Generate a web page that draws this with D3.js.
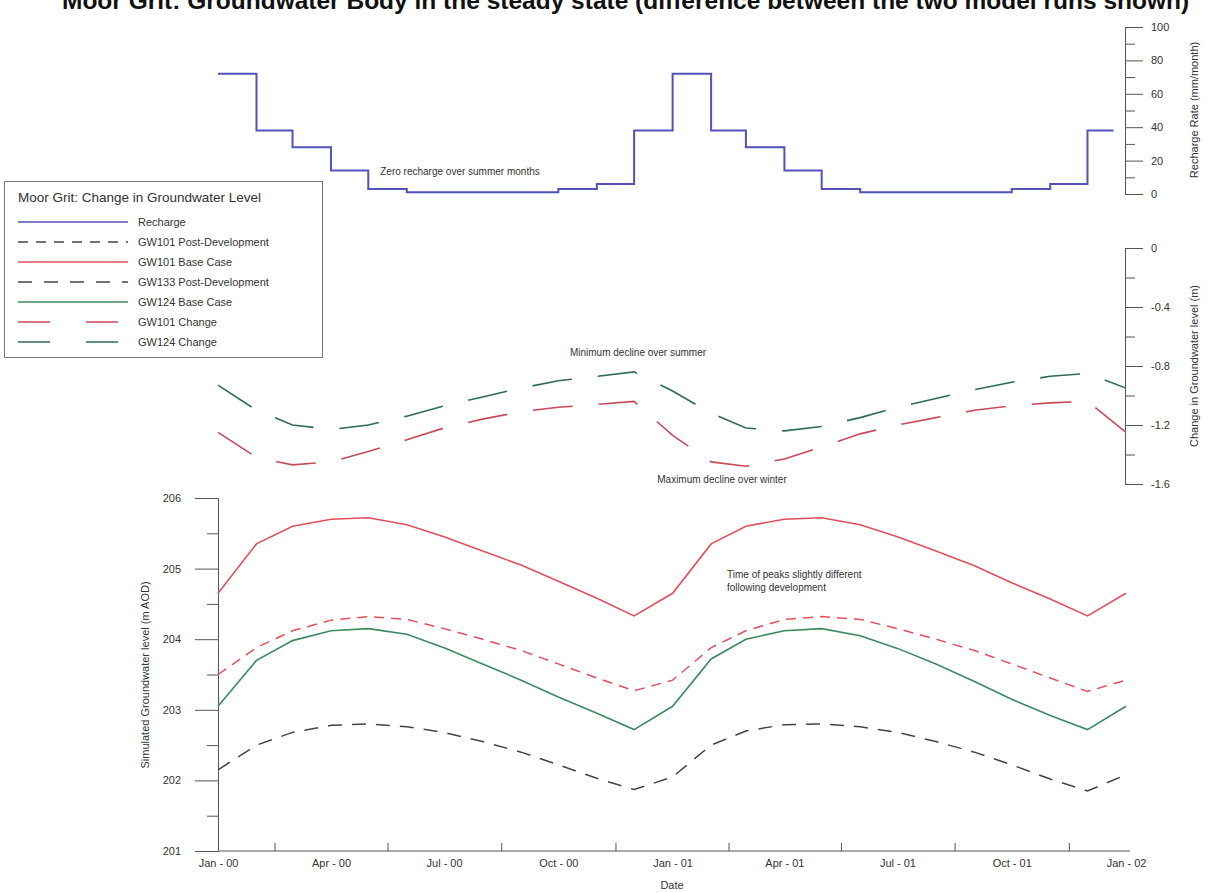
<!DOCTYPE html>
<html>
<head>
<meta charset="utf-8">
<script src="https://cdn.jsdelivr.net/npm/d3@7"></script>
<style>
  body { margin: 0; background: #fff; }
  svg { display: block; }
  text { font-family: "Liberation Sans", Arial, sans-serif; fill: #333; }
</style>
</head>
<body>
<div id="chart"></div>
<script>
// monthly values, Jan-00 .. Jan-02
var quarterLabels = ["Jan - 00", "Apr - 00", "Jul - 00", "Oct - 00", "Jan - 01", "Apr - 01", "Jul - 01", "Oct - 01", "Jan - 02"];
var recharge = [72, 38, 28, 14, 3, 1, 1, 1, 1, 3, 6, 38, 72, 38, 28, 14, 3, 1, 1, 1, 1, 3, 6, 38];
var gw101Base = [204.65, 205.35, 205.6, 205.7, 205.72, 205.62, 205.45, 205.25, 205.05, 204.82, 204.58, 204.33,
                 204.65, 205.35, 205.6, 205.7, 205.72, 205.62, 205.45, 205.25, 205.04, 204.8, 204.57, 204.33, 204.65];
var gw101Post = [203.5, 203.88, 204.12, 204.27, 204.32, 204.28, 204.15, 204.0, 203.84, 203.65, 203.45, 203.27,
                 203.42, 203.88, 204.12, 204.28, 204.32, 204.28, 204.15, 204.0, 203.84, 203.65, 203.45, 203.26, 203.42];
var gw124Base = [203.05, 203.7, 203.98, 204.12, 204.15, 204.07, 203.88, 203.65, 203.42, 203.18, 202.95, 202.72,
                 203.05, 203.72, 204.0, 204.12, 204.15, 204.05, 203.87, 203.65, 203.4, 203.15, 202.92, 202.72, 203.05];
var gw133Post = [202.15, 202.5, 202.68, 202.78, 202.8, 202.76, 202.68, 202.55, 202.4, 202.22, 202.03, 201.87,
                 202.05, 202.5, 202.7, 202.79, 202.8, 202.76, 202.68, 202.55, 202.4, 202.22, 202.02, 201.85, 202.08];
var gw101Change = [-1.25, -1.42, -1.47, -1.45, -1.38, -1.30, -1.22, -1.16, -1.11, -1.08, -1.06, -1.04,
                   -1.27, -1.45, -1.48, -1.43, -1.35, -1.26, -1.20, -1.15, -1.10, -1.07, -1.05, -1.04, -1.25];
var gw124Change = [-0.93, -1.10, -1.20, -1.23, -1.20, -1.14, -1.07, -1.01, -0.95, -0.90, -0.87, -0.84,
                   -0.97, -1.12, -1.22, -1.24, -1.21, -1.15, -1.08, -1.02, -0.96, -0.91, -0.87, -0.85, -0.95];

var W = 1208, H = 893;
var start = new Date(2000, 0, 1);
var dates = d3.range(25).map(function(i) { return d3.timeMonth.offset(start, i); });
var rechargeEnd = new Date(2001, 11, 22);

var svg = d3.select("#chart").append("svg").attr("width", W).attr("height", H);

// scales
var x = d3.scaleTime().domain([start, new Date(2002, 0, 1)]).range([218, 1126]);
var yR = d3.scaleLinear().domain([0, 100]).range([194, 27]);
var yC = d3.scaleLinear().domain([-1.6, 0]).range([484, 248]);
var yL = d3.scaleLinear().domain([201, 206]).range([851, 498]);

var red = "#e0505a", green = "#3d8a5e", blue = "#5252b8", grey = "#444";

// title (cut off at the top of the page, as in the source)
svg.append("text")
    .attr("x", 62).attr("y", 9)
    .attr("font-size", 24.5).attr("font-weight", "bold")
    .style("fill", "#111")
    .text("Moor Grit: Groundwater Body in the steady state (difference between the two model runs shown)");

// ---- recharge panel ----
svg.append("g").attr("transform", "translate(1125,0)")
    .call(d3.axisRight(yR).tickValues(d3.range(0, 101, 20)).tickSize(18).tickPadding(8));
svg.append("g").attr("transform", "translate(1125,0)")
    .call(d3.axisRight(yR).tickValues(d3.range(10, 100, 20)).tickSize(10).tickFormat(""))
    .select(".domain").remove();

var stepData = recharge.map(function(v, i) { return { d: dates[i], v: v }; });
stepData.push({ d: rechargeEnd, v: recharge[recharge.length - 1] });
svg.append("path")
    .datum(stepData)
    .attr("fill", "none").attr("stroke", blue).attr("stroke-width", 2)
    .attr("d", d3.line().curve(d3.curveStepAfter).x(function(d) { return x(d.d); }).y(function(d) { return yR(d.v); }));

svg.append("text")
    .attr("transform", "translate(1198,110) rotate(-90)")
    .attr("text-anchor", "middle").attr("font-size", 11)
    .text("Recharge Rate (mm/month)");

svg.append("text").attr("x", 460).attr("y", 175).attr("text-anchor", "middle").attr("font-size", 10)
    .text("Zero recharge over summer months");

// ---- change panel ----
svg.append("g").attr("transform", "translate(1125,0)")
    .call(d3.axisRight(yC).tickValues([0, -0.4, -0.8, -1.2, -1.6]).tickSize(18).tickPadding(8)
        .tickFormat(function(d) { return d === 0 ? "0" : d3.format(".1f")(d).replace("−", "-"); }));
svg.append("g").attr("transform", "translate(1125,0)")
    .call(d3.axisRight(yC).tickValues([-0.2, -0.6, -1.0, -1.4]).tickSize(10).tickFormat(""))
    .select(".domain").remove();

var changeLine = d3.line().x(function(d, i) { return x(dates[i]); }).y(function(d) { return yC(d); });
svg.append("path").datum(gw124Change)
    .attr("fill", "none").attr("stroke", "#2f6a5a").attr("stroke-width", 1.6)
    .attr("stroke-dasharray", "40,26").attr("d", changeLine);
svg.append("path").datum(gw101Change)
    .attr("fill", "none").attr("stroke", "#c84a58").attr("stroke-width", 1.6)
    .attr("stroke-dasharray", "40,26").attr("d", changeLine);

svg.append("text")
    .attr("transform", "translate(1198,366) rotate(-90)")
    .attr("text-anchor", "middle").attr("font-size", 11)
    .text("Change in Groundwater level (m)");

svg.append("text").attr("x", 638).attr("y", 356).attr("text-anchor", "middle").attr("font-size", 10)
    .text("Minimum decline over summer");
svg.append("text").attr("x", 722).attr("y", 483).attr("text-anchor", "middle").attr("font-size", 10)
    .text("Maximum decline over winter");

// ---- groundwater level panel ----
svg.append("g").attr("transform", "translate(218,0)")
    .call(d3.axisLeft(yL).tickValues(d3.range(201, 207)).tickSize(23).tickPadding(14).tickFormat(d3.format("d")));
svg.append("g").attr("transform", "translate(218,0)")
    .call(d3.axisLeft(yL).tickValues(d3.range(201.5, 206, 1)).tickSize(11).tickFormat(""))
    .select(".domain").remove();

var qDates = d3.range(9).map(function(i) { return d3.timeMonth.offset(start, i * 3); });
var midDates = d3.range(8).map(function(i) { return new Date((qDates[i].getTime() + qDates[i + 1].getTime()) / 2); });
var xAx = svg.append("g").attr("transform", "translate(0,851)")
    .call(d3.axisBottom(x).tickValues(qDates).tickSize(0).tickPadding(8)
        .tickFormat(function(d, i) { return quarterLabels[i]; }));
xAx.select(".domain").attr("d", "M218,0H1130");
svg.append("g").attr("transform", "translate(0,851)")
    .call(d3.axisTop(x).tickValues(midDates).tickSize(8).tickFormat(""))
    .select(".domain").remove();

svg.selectAll(".tick text").attr("font-size", 11).style("fill", "#333");
svg.selectAll(".tick line, .domain").attr("stroke", "#555");

svg.append("text").attr("x", 672).attr("y", 889).attr("text-anchor", "middle").attr("font-size", 11).text("Date");
svg.append("text")
    .attr("transform", "translate(149,675) rotate(-90)")
    .attr("text-anchor", "middle").attr("font-size", 11)
    .text("Simulated Groundwater level (m AOD)");

var levelLine = d3.line().x(function(d, i) { return x(dates[i]); }).y(function(d) { return yL(d); });
svg.append("path").datum(gw133Post).attr("fill", "none").attr("stroke", grey).attr("stroke-width", 1.5)
    .attr("stroke-dasharray", "14,10").attr("d", levelLine);
svg.append("path").datum(gw124Base).attr("fill", "none").attr("stroke", green).attr("stroke-width", 1.6)
    .attr("d", levelLine);
svg.append("path").datum(gw101Post).attr("fill", "none").attr("stroke", red).attr("stroke-width", 1.5)
    .attr("stroke-dasharray", "10,7").attr("d", levelLine);
svg.append("path").datum(gw101Base).attr("fill", "none").attr("stroke", red).attr("stroke-width", 1.6)
    .attr("d", levelLine);

svg.append("text").attr("x", 727).attr("y", 578).attr("font-size", 10).text("Time of peaks slightly different");
svg.append("text").attr("x", 727).attr("y", 591).attr("font-size", 10).text("following development");

// ---- legend ----
var legendItems = [
    { name: "Recharge", color: blue, dash: null },
    { name: "GW101 Post-Development", color: grey, dash: "10,8" },
    { name: "GW101 Base Case", color: red, dash: null },
    { name: "GW133 Post-Development", color: grey, dash: "14,12" },
    { name: "GW124 Base Case", color: green, dash: null },
    { name: "GW101 Change", color: "#c84a58", dash: "32,36" },
    { name: "GW124 Change", color: "#2f6a5a", dash: "32,36" }
];
var lg = svg.append("g");
lg.append("rect").attr("x", 4.5).attr("y", 181.5).attr("width", 318).attr("height", 176)
    .attr("fill", "#fff").attr("stroke", "#777");
lg.append("text").attr("x", 18).attr("y", 202).attr("font-size", 13.5).text("Moor Grit: Change in Groundwater Level");
legendItems.forEach(function(it, i) {
    var yy = 222 + i * 20;
    lg.append("line").attr("x1", 18).attr("x2", 128).attr("y1", yy).attr("y2", yy)
        .attr("stroke", it.color).attr("stroke-width", 1.6)
        .attr("stroke-dasharray", it.dash);
    lg.append("text").attr("x", 138).attr("y", yy + 4).attr("font-size", 11).text(it.name);
});
</script>
</body>
</html>
